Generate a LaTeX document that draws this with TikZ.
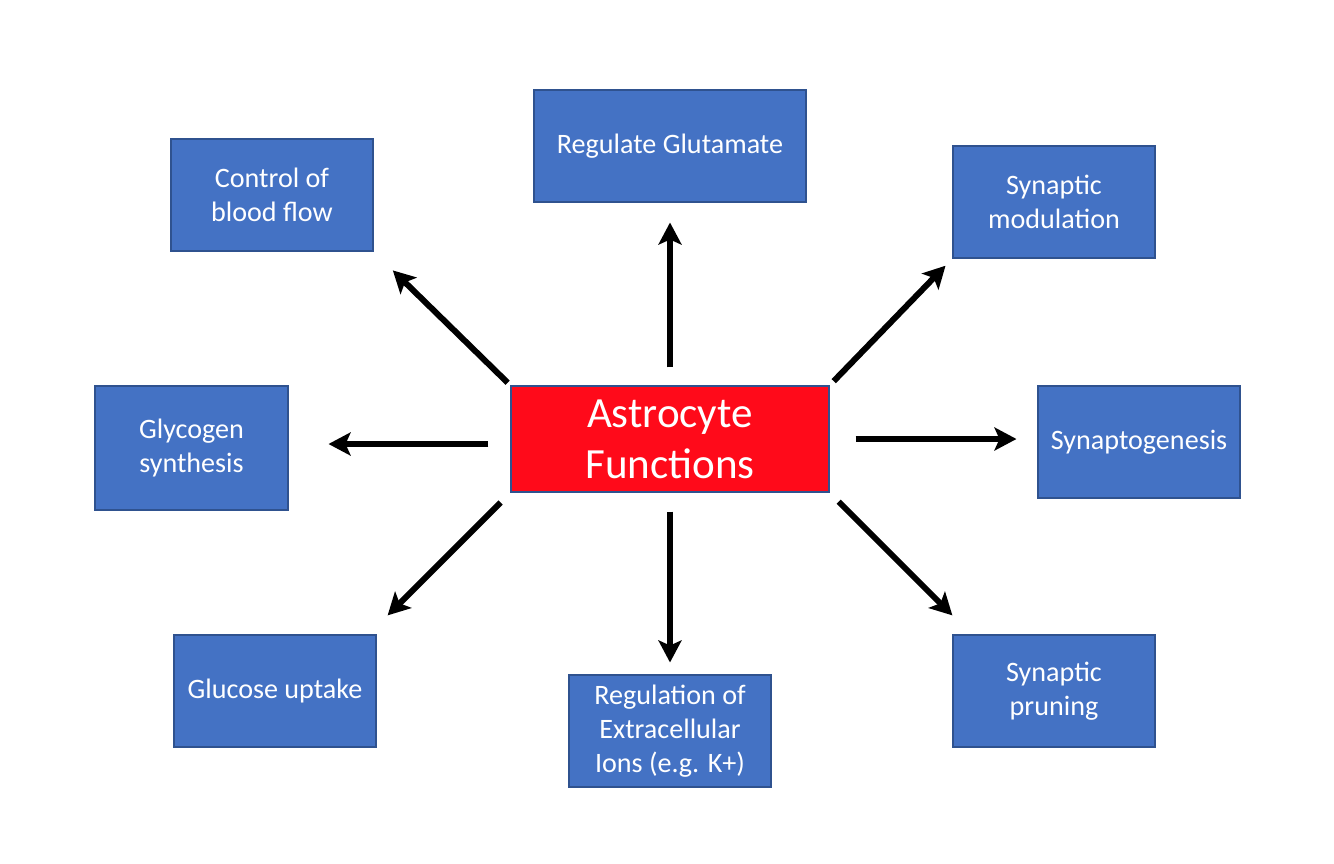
\documentclass[tikz,border=0pt]{standalone}
\usepackage{fontspec}
\setmainfont{Carlito}
\usetikzlibrary{arrows.meta}
\definecolor{boxblue}{HTML}{4472C4}
\definecolor{edgeblue}{HTML}{2F528F}
\definecolor{hubred}{HTML}{FF0A1A}
\tikzset{
  func/.style={draw=edgeblue,fill=boxblue,line width=0.6pt,text=white,align=center,
    minimum width=4.04cm,minimum height=2.24cm,font=\fontsize{16}{19.5}\selectfont},
  hub/.style={draw=edgeblue,fill=hubred,line width=0.6pt,text=white,align=center,
    minimum width=6.36cm,minimum height=2.12cm,font=\fontsize{24.5}{29}\selectfont},
  link/.style={line width=0.12cm,-{Stealth[length=0.44cm,width=0.46cm,inset=0.1cm]}}
}
\begin{document}
\begin{tikzpicture}
  \useasboundingbox (0,0) rectangle (26.68,-17.26);
  \node[hub] (astro) at (13.4,-8.78) {Astrocyte\\Functions};
  \node[func,minimum width=5.44cm] (glut) at (13.4,-2.92) {Regulate Glutamate};
  \node[func] (blood) at (5.44,-3.9) {Control of\\blood flow};
  \node[func] (synmod) at (21.08,-4.04) {Synaptic\\modulation};
  \node[func,minimum width=3.86cm,minimum height=2.48cm] (glyco) at (3.83,-8.96) {Glycogen\\synthesis};
  \node[func] (synapto) at (22.78,-8.84) {Synaptogenesis};
  \node[func] (glucose) at (5.5,-13.82) {Glucose uptake};
  \node[func] (ions) at (13.4,-14.62) {Regulation of\\Extracellular\\Ions (e.g. K+)};
  \node[func] (pruning) at (21.08,-13.82) {Synaptic\\pruning};
  % arrows out of the hub
  \draw[link,shorten <=0.36cm,shorten >=0.4cm] (astro.north) -- (glut.south);
  \draw[link,shorten <=0.08cm,shorten >=0.54cm] (astro.north west) -- (blood.south east);
  \draw[link,shorten <=0.12cm,shorten >=0.2cm] (astro.north east) -- (synmod.south west);
  \draw[link,shorten <=0.44cm,shorten >=0.8cm] ([yshift=-0.1cm]astro.west) -- ([yshift=-0.1cm]astro.west -| glyco.east);
  \draw[link,shorten <=0.52cm,shorten >=0.42cm] (astro.east) -- (astro.east -| synapto.west);
  \draw[link,shorten <=0.28cm,shorten >=0.54cm] (astro.south west) -- ([xshift=-0.16cm]glucose.north east);
  \draw[link,shorten <=0.38cm,shorten >=0.24cm] (astro.south) -- (ions.north);
  \draw[link,shorten <=0.26cm,shorten >=0.54cm] (astro.south east) -- ([xshift=0.38cm]pruning.north west);
\end{tikzpicture}
\end{document}
